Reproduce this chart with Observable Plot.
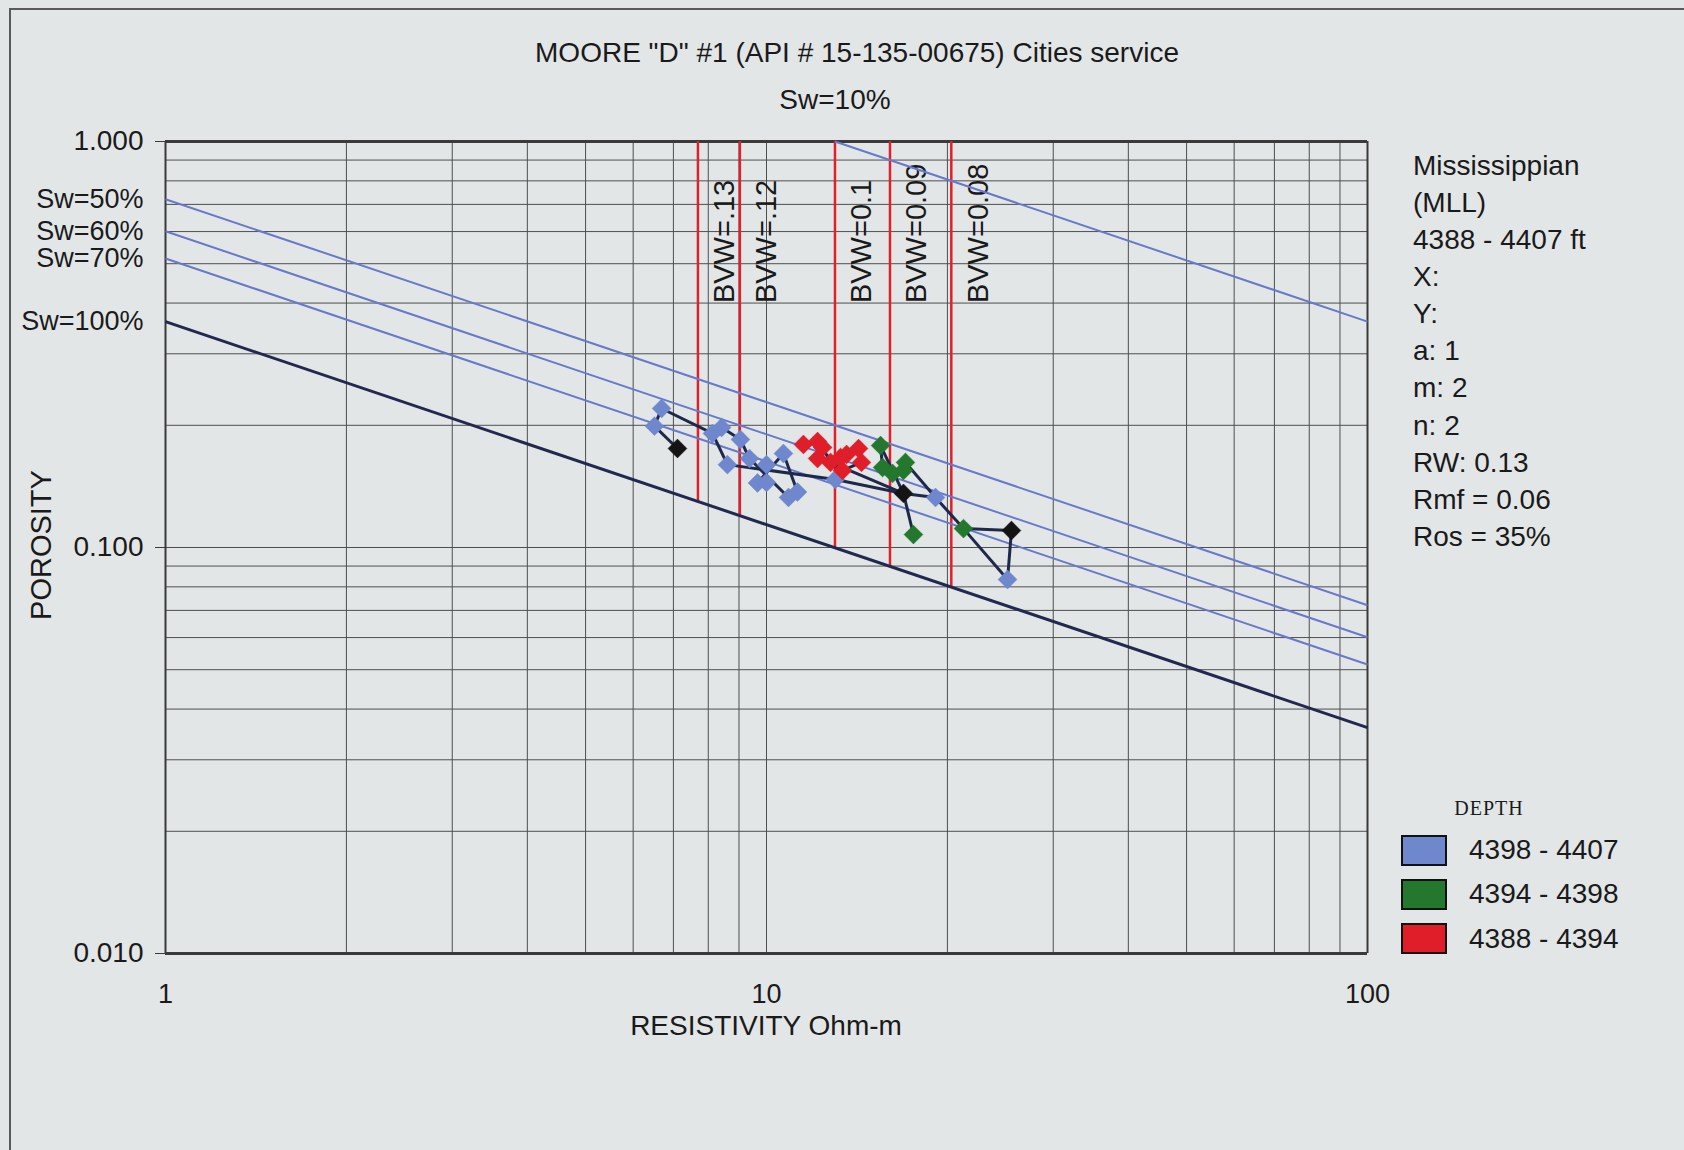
<!DOCTYPE html>
<html>
<head>
<meta charset="utf-8">
<script src="https://cdn.jsdelivr.net/npm/d3@7"></script>
<script src="https://cdn.jsdelivr.net/npm/@observablehq/plot@0.6"></script>
<style>
  html, body { margin: 0; padding: 0; background: #e3e6e7; }
  #page { position: relative; width: 1684px; height: 1150px; background: #e3e6e7; overflow: hidden;
          font-family: "Liberation Sans", Arial, sans-serif; color: #1a1a1a; }
  #frame { position: absolute; left: 9px; top: 8px; width: 1700px; height: 1200px;
           border-left: 2px solid #5a5a5a; border-top: 2px solid #5a5a5a; }
  #chart { position: absolute; left: 0; top: 0; }
  .c { position: absolute; white-space: nowrap; line-height: 1; transform: translate(-50%, -50%); }
  .l { position: absolute; white-space: nowrap; line-height: 1; transform: translate(0, -50%); }
  .sw { position: absolute; box-sizing: border-box; border: 2px solid #111; width: 46px; height: 31px; }
</style>
</head>
<body>
<div id="page">
  <div id="frame"></div>
  <div id="chart"></div>
</div>
<script>
// ---------------- data ----------------
const titleText = 'MOORE "D" #1 (API # 15-135-00675) Cities service';
const xAxisLabel = "RESISTIVITY Ohm-m";
const yAxisLabel = "POROSITY";

const xTicks = [1, 10, 100];
const yTicks = [0.01, 0.1, 1];
const xGrid = [1, 2, 3, 4, 5, 6, 7, 8, 9, 10, 20, 30, 40, 50, 60, 70, 80, 90, 100];
const yGrid = [0.01, 0.02, 0.03, 0.04, 0.05, 0.06, 0.07, 0.08, 0.09,
               0.1, 0.2, 0.3, 0.4, 0.5, 0.6, 0.7, 0.8, 0.9, 1];

// Water-saturation lines (start and end points)
const swLabels   = ["Sw=10%", "Sw=50%", "Sw=60%", "Sw=70%", "Sw=100%"];
const swStartR   = [13, 1, 1, 1, 1];
const swStartPhi = [1, 0.721, 0.601, 0.515, 0.36];
const swEndR     = [100, 100, 100, 100, 100];
const swEndPhi   = [0.36, 0.0721, 0.0601, 0.0515, 0.036];

// Bulk-volume-water lines (vertical, from top down to the Sw=100% line)
const bvwLabels   = ["BVW=.13", "BVW=.12", "BVW=0.1", "BVW=0.09", "BVW=0.08"];
const bvwR        = [7.69, 9.03, 13.0, 16.05, 20.3];
const bvwPhi      = [0.13, 0.12, 0.10, 0.09, 0.08];
const bvwLabelPhi = [0.4, 0.4, 0.4, 0.4, 0.4];

// Depth zones
const zoneNames  = ["4398 - 4407", "4394 - 4398", "4388 - 4394"];
const zoneColors = ["#6e87cd", "#23782d", "#e01e2a"];

// Points (resistivity, porosity)
const blueIds = ["b1","b2","b3","b4","b5","b6","b7","b8","b9","b10","b11","b12","b13","b14","b15","b16"];
const blueR   = [6.69, 6.51, 8.13, 8.42, 9.05, 8.61, 9.37, 10.0, 10.67, 9.66, 10.0, 10.88, 11.26, 13.02, 19.11, 25.18];
const bluePhi = [0.220, 0.199, 0.191, 0.1975, 0.1845, 0.160, 0.1656, 0.160, 0.1704, 0.1442, 0.1446, 0.1328, 0.137, 0.1471, 0.1328, 0.0834];

const greenIds = ["g1","g2","g3","g4","g5","g6","g7"];
const greenR   = [15.48, 15.60, 16.21, 16.90, 17.03, 17.56, 21.27];
const greenPhi = [0.1783, 0.1574, 0.1522, 0.1548, 0.162, 0.1076, 0.1113];

const redIds = ["r1","r2","r3","r4","r5","r6","r7","r8","r9","r10"];
const redR   = [11.52, 12.16, 12.40, 12.16, 12.78, 13.38, 13.28, 13.59, 14.23, 14.39];
const redPhi = [0.1794, 0.1824, 0.1764, 0.1656, 0.162, 0.1548, 0.1666, 0.1695, 0.1753, 0.162];

const blackIds = ["k0","k1","k2"];
const blackR   = [7.11, 16.90, 25.56];
const blackPhi = [0.1753, 0.1359, 0.1101];

// Connecting trace (pairs of point ids)
const traceFrom = ["k0","b2","b1","b3","b4","b3","b5","b7","b12","b13","b9","b10","b11","b6","b14",
                   "r1","r2","r3","r5","r7","r8","r9","r10","r6","r5",
                   "g1","g2","g3","g4","g1","k1","k1","g5","b15","g7","k2","b16"];
const traceTo   = ["b2","b1","b3","b4","b5","b6","b7","b12","b13","b9","b10","b11","b8","b14","k1",
                   "r2","r3","r5","r7","r8","r9","r10","r6","r4","k1",
                   "g2","g3","g4","g5","k1","g6","b15","b15","g7","k2","b16","g7"];

// Right-hand annotation and legend
const noteLines = ["Mississippian", "(MLL)", "4388 - 4407 ft", "X:", "Y:", "a: 1", "m: 2", "n: 2",
                   "RW: 0.13", "Rmf = 0.06", "Ros = 35%"];
const legendTitle = "DEPTH";

// ---------------- build tables ----------------
const pts = [];
const addPts = (ids, R, P, fill) => ids.forEach((id, i) => pts.push({id, R: R[i], phi: P[i], fill}));
addPts(blueIds, blueR, bluePhi, zoneColors[0]);
addPts(redIds, redR, redPhi, zoneColors[2]);
addPts(greenIds, greenR, greenPhi, zoneColors[1]);
addPts(blackIds, blackR, blackPhi, "#141414");
const byId = Object.fromEntries(pts.map(d => [d.id, d]));
const segs = traceFrom.map((f, i) => ({a: byId[f], b: byId[traceTo[i]]}));

const sw = swLabels.map((label, i) => ({label, r1: swStartR[i], p1: swStartPhi[i], r2: swEndR[i], p2: swEndPhi[i]}));
const bvw = bvwLabels.map((label, i) => ({label, R: bvwR[i], phi: bvwPhi[i], lp: bvwLabelPhi[i]}));

const FONT = "Liberation Sans, Arial, sans-serif";

const chart = Plot.plot({
  width: 1684,
  height: 1150,
  marginLeft: 165,
  marginRight: 317,
  marginTop: 141,
  marginBottom: 197,
  style: {background: "transparent", fontFamily: FONT, fontSize: "28px", color: "#1a1a1a", overflow: "visible"},
  x: {type: "log", domain: [1, 100]},
  y: {type: "log", domain: [0.01, 1]},
  marks: [
    Plot.ruleX(xGrid, {stroke: "#4e4e4e", strokeWidth: 1}),
    Plot.ruleY(yGrid, {stroke: "#4e4e4e", strokeWidth: 1}),
    Plot.ruleX([1, 100], {stroke: "#3a3a3a", strokeWidth: 2}),
    Plot.ruleY([1, 0.01], {stroke: "#3a3a3a", strokeWidth: 3}),
    Plot.axisX(xTicks, {tickSize: 0, tickPadding: 30, tickFormat: d => String(d), fontSize: 27, label: null, fill: "#1a1a1a"}),
    Plot.axisY(yTicks, {tickSize: 10, tickPadding: 12, tickFormat: d3.format(".3f"), fontSize: 28, label: null, stroke: "#3a3a3a", fill: "#1a1a1a"}),
    // BVW lines
    Plot.ruleX(bvw, {x: "R", y1: 1, y2: "phi", stroke: "#e0202a", strokeWidth: 2.5}),
    Plot.text(bvw, {x: "R", y: "lp", text: "label", rotate: -90, textAnchor: "start", lineAnchor: "middle",
                    dx: 27, fontSize: 29, fill: "#1a1a1a"}),
    // Sw lines
    Plot.link(sw.slice(0, 4), {x1: "r1", y1: "p1", x2: "r2", y2: "p2", stroke: "#6679cc", strokeWidth: 2}),
    Plot.link(sw.slice(4), {x1: "r1", y1: "p1", x2: "r2", y2: "p2", stroke: "#222850", strokeWidth: 3}),
    Plot.text(sw.filter(d => d.r1 === 1), {x: "r1", y: "p1", text: "label", textAnchor: "end", dx: -22, fontSize: 27, fill: "#1a1a1a"}),
    Plot.text(sw.filter(d => d.r1 !== 1), {x: "r1", y: "p1", text: "label", dy: -41, fontSize: 28, fill: "#1a1a1a"}),
    // trace
    Plot.link(segs, {x1: d => d.a.R, y1: d => d.a.phi, x2: d => d.b.R, y2: d => d.b.phi,
                     stroke: "#1e284b", strokeWidth: 3}),
    Plot.dot(pts, {x: "R", y: "phi", symbol: "diamond2", r: 8.5, fill: "fill", stroke: "fill", strokeWidth: 0.5})
  ]
});
document.getElementById("chart").appendChild(chart);

// ---------------- HTML texts ----------------
const page = document.getElementById("page");
function addText(cls, text, x, y, style = {}) {
  const d = document.createElement("div");
  d.className = cls;
  d.textContent = text;
  d.style.left = x + "px";
  d.style.top = y + "px";
  Object.assign(d.style, style);
  page.appendChild(d);
  return d;
}
addText("c", titleText, 857, 53, {fontSize: "28px"});
addText("c", xAxisLabel, 766, 1026, {fontSize: "28px"});
addText("c", yAxisLabel, 41, 545, {fontSize: "29px", transform: "translate(-50%, -50%) rotate(-90deg)"});
noteLines.forEach((t, i) => addText("l", t, 1413, 165.5 + 37.15 * i, {fontSize: "28px"}));
addText("c", legendTitle, 1489, 808, {fontSize: "20px", fontFamily: "Liberation Serif, Times New Roman, serif", letterSpacing: "1px"});
const legY = [850, 894, 938.5];
zoneNames.forEach((name, i) => {
  const s = document.createElement("div");
  s.className = "sw";
  s.style.left = "1401px";
  s.style.top = (legY[i] - 15.5) + "px";
  s.style.background = zoneColors[i];
  page.appendChild(s);
  addText("l", name, 1469, legY[i], {fontSize: "28px"});
});
</script>
</body>
</html>
